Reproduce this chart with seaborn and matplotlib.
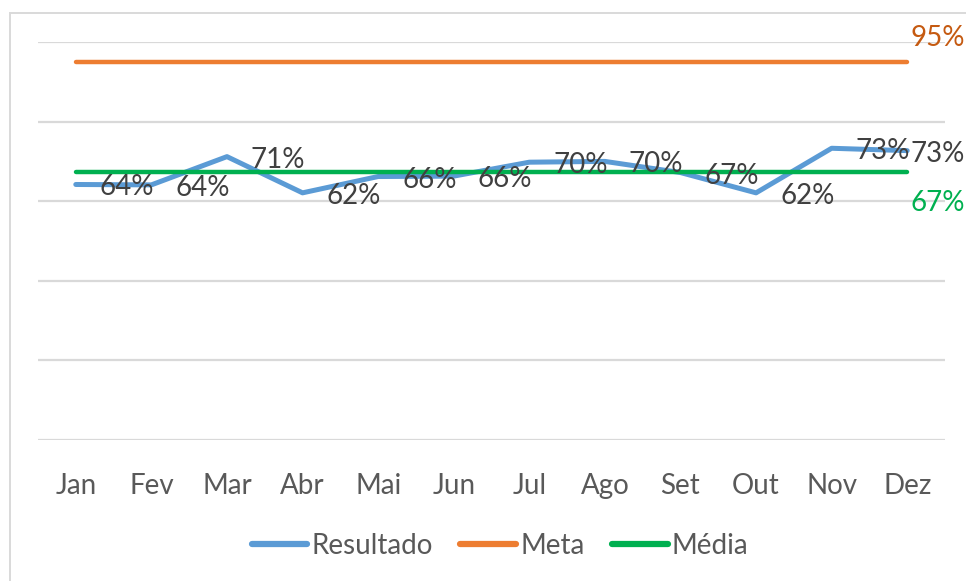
import numpy as np
import pandas as pd
import matplotlib.pyplot as plt
import seaborn as sns
from matplotlib.patches import Rectangle

meses = ['Jan', 'Fev', 'Mar', 'Abr', 'Mai', 'Jun', 'Jul', 'Ago', 'Set', 'Out', 'Nov', 'Dez']
resultado = [0.642, 0.641, 0.712, 0.621, 0.662, 0.663, 0.698, 0.700, 0.672, 0.621, 0.733, 0.727]
meta = [0.95] * 12
media = [0.673] * 12

df = pd.DataFrame({'Mes': meses, 'Resultado': resultado, 'Meta': meta, 'Média': media})

sns.set_theme(style='white')
plt.rcParams['font.family'] = ['Lato', 'DejaVu Sans']

azul = '#5B9BD5'
laranja = '#ED7D31'
verde = '#00B050'
grid_cor = '#D9D9D9'

fig = plt.figure(figsize=(9.66, 5.81), dpi=100)
ax = fig.add_axes([38/966, 141/581, 907/966, 398/581])

# moldura do grafico
fig.patches.append(Rectangle((10/966, -0.1), 1.2, (581-13)/581 + 0.1, transform=fig.transFigure,
                             fill=False, edgecolor=grid_cor, lw=1.4))

sns.lineplot(data=df, x='Mes', y='Meta', ax=ax, color=laranja, lw=3.2,
             solid_capstyle='round', label='Meta', zorder=3, sort=False)
sns.lineplot(data=df, x='Mes', y='Resultado', ax=ax, color=azul, lw=3.6,
             solid_capstyle='round', label='Resultado', zorder=3, sort=False)
sns.lineplot(data=df, x='Mes', y='Média', ax=ax, color=verde, lw=3.2,
             solid_capstyle='round', label='Média', zorder=4, sort=False)

ax.set_xlim(-0.5, 11.5)
ax.set_ylim(0, 1)
ax.set_yticks(np.arange(0, 1.01, 0.2))
ax.set_yticklabels([])
ax.tick_params(axis='y', length=0)
ax.tick_params(axis='x', length=0, labelsize=20, labelcolor='#595959', pad=24)
ax.grid(axis='y', color=grid_cor, lw=1.6)
ax.set_axisbelow(True)
ax.set_xlabel('')
ax.set_ylabel('')
for s in ax.spines.values():
    s.set_visible(False)

# rotulos dos dados
for i, v in enumerate(resultado):
    dx = 24 if i < 11 else 3
    ax.annotate(f'{v*100:.0f}%', (i, v), xytext=(dx, -3), textcoords='offset pixels',
                ha='left', va='center', fontsize=20, color='#404040', zorder=5)

ax.annotate(f'{meta[-1]*100:.0f}%', (11, meta[-1]), xytext=(3, 24), textcoords='offset pixels',
            ha='left', va='center', fontsize=20, color='#C55A11', zorder=5)
ax.annotate(f'{media[-1]*100:.0f}%', (11, media[-1]), xytext=(3, -31), textcoords='offset pixels',
            ha='left', va='center', fontsize=20, color=verde, zorder=5)

handles, labels = ax.get_legend_handles_labels()
ordem = [labels.index(n) for n in ['Resultado', 'Meta', 'Média']]
ax.legend_.remove()
leg = fig.legend([handles[k] for k in ordem], [labels[k] for k in ordem],
                 loc='center', bbox_to_anchor=(500/966, 1 - 546/581), ncol=3, frameon=False,
                 fontsize=20, labelcolor='#595959', handlelength=2.0, handletextpad=0.15,
                 columnspacing=1.0)
for h in leg.get_lines():
    h.set_linewidth(4.5)
    h.set_solid_capstyle('round')

fig.savefig('out.png', dpi=100)
